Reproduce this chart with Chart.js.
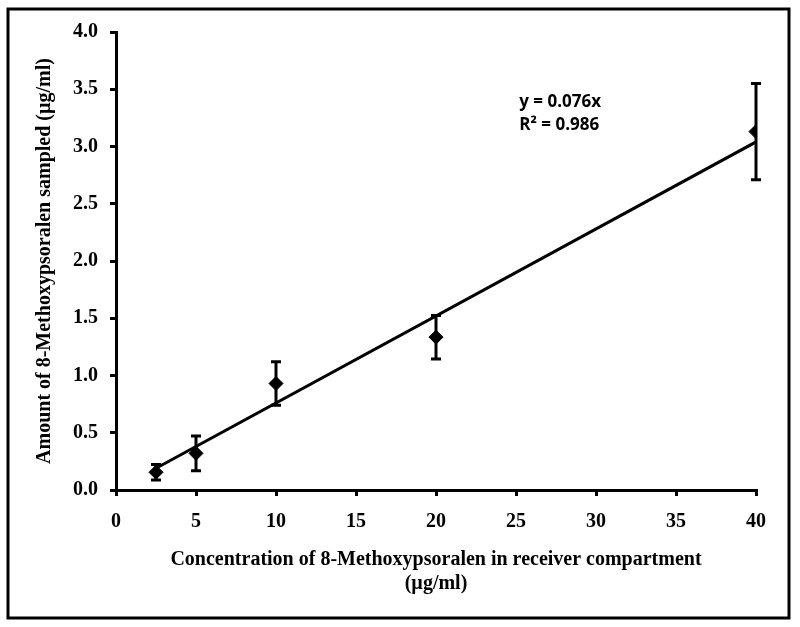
<!DOCTYPE html>
<html>
<head>
<meta charset="utf-8">
<script src="https://cdn.jsdelivr.net/npm/chart.js@4.4.0/dist/chart.umd.min.js"></script>
<style>
  html, body { margin: 0; padding: 0; background: #fff; }
  #wrap { width: 800px; height: 627px; }
</style>
</head>
<body>
<div id="wrap"><canvas id="chart" width="800" height="627"></canvas></div>
<script>
// concentration in receiver compartment (µg/ml)
const concentrations = [2.5, 5, 10, 20, 40];
// amount sampled (µg/ml), mean and error
const amountSampled = [0.155, 0.32, 0.93, 1.335, 3.13];
const amountError = [0.068, 0.152, 0.19, 0.19, 0.42];

const xTicks = [0, 5, 10, 15, 20, 25, 30, 35, 40];
const yTicks = [0, 0.5, 1.0, 1.5, 2.0, 2.5, 3.0, 3.5, 4.0];

const slope = 0.076;
const equationLines = ['y = 0.076x', 'R² = 0.986'];

const serifBold = { family: "'Liberation Serif', 'Times New Roman', serif", weight: 'bold', size: 20 };

const scatterPoints = concentrations.map((x, i) => ({ x: x, y: amountSampled[i] }));
const xMin = Math.min(...concentrations), xMax = Math.max(...concentrations);
const trendPoints = [{ x: xMin, y: slope * xMin }, { x: xMax, y: slope * xMax }];

const frameAndExtras = {
    id: 'frameAndExtras',
    afterDatasetsDraw(chart) {
        const ctx = chart.ctx;
        const xs = chart.scales.x, ys = chart.scales.y;
        ctx.save();
        // error bars
        ctx.strokeStyle = '#000';
        ctx.lineWidth = 3;
        concentrations.forEach((x, i) => {
            const px = xs.getPixelForValue(x);
            const top = ys.getPixelForValue(amountSampled[i] + amountError[i]);
            const bot = ys.getPixelForValue(amountSampled[i] - amountError[i]);
            ctx.beginPath();
            ctx.moveTo(px, top); ctx.lineTo(px, bot);
            ctx.moveTo(px - 5, top); ctx.lineTo(px + 5, top);
            ctx.moveTo(px - 5, bot); ctx.lineTo(px + 5, bot);
            ctx.stroke();
        });
        // trendline label
        ctx.fillStyle = '#000';
        ctx.font = "bold 17px 'Open Sans', sans-serif";
        ctx.textBaseline = 'middle';
        ctx.textAlign = 'left';
        const lx = xs.getPixelForValue(25.2);
        const ly = ys.getPixelForValue(3.39);
        equationLines.forEach((t, i) => ctx.fillText(t, lx, ly + i * 23));
        // outer frame
        ctx.lineWidth = 3;
        ctx.strokeRect(8, 9, 781, 609);
        ctx.restore();
    }
};

new Chart(document.getElementById('chart').getContext('2d'), {
    type: 'scatter',
    data: {
        datasets: [
            {
                label: 'Amount sampled',
                data: scatterPoints,
                pointStyle: 'rectRot',
                pointRadius: 7,
                pointHoverRadius: 7,
                backgroundColor: '#000',
                borderColor: '#000',
                order: 1
            },
            {
                type: 'line',
                label: 'Linear fit',
                data: trendPoints,
                borderColor: '#000',
                borderWidth: 3,
                pointRadius: 0,
                fill: false,
                order: 2
            }
        ]
    },
    options: {
        responsive: false,
        animation: false,
        layout: { padding: { left: 8, top: 32, right: 44, bottom: 0 } },
        plugins: {
            legend: { display: false },
            tooltip: { enabled: false }
        },
        scales: {
            x: {
                type: 'linear',
                min: 0, max: 40,
                afterBuildTicks: s => { s.ticks = xTicks.map(v => ({ value: v })); },
                afterFit: s => { s.height = 137; },
                border: { display: true, color: '#000', width: 3 },
                grid: { drawOnChartArea: false, drawTicks: true, tickLength: 6, color: '#000', lineWidth: 3 },
                ticks: { color: '#000', font: serifBold, padding: 14, maxRotation: 0 },
                title: {
                    display: true,
                    text: ['Concentration of 8-Methoxypsoralen in receiver compartment', '(µg/ml)'],
                    color: '#000',
                    font: serifBold,
                    padding: { bottom: 31 }
                }
            },
            y: {
                type: 'linear',
                min: 0, max: 4,
                afterBuildTicks: s => { s.ticks = yTicks.map(v => ({ value: v })); },
                afterFit: s => { s.width = 108; },
                border: { display: true, color: '#000', width: 3 },
                grid: { drawOnChartArea: false, drawTicks: true, tickLength: 6, color: '#000', lineWidth: 3 },
                ticks: { color: '#000', font: serifBold, padding: 12, callback: v => Number(v).toFixed(1) },
                title: {
                    display: true,
                    text: 'Amount of 8-Methoxypsoralen sampled (µg/ml)',
                    color: '#000',
                    font: serifBold,
                    padding: { top: 25 }
                }
            }
        }
    },
    plugins: [frameAndExtras]
});
</script>
</body>
</html>
